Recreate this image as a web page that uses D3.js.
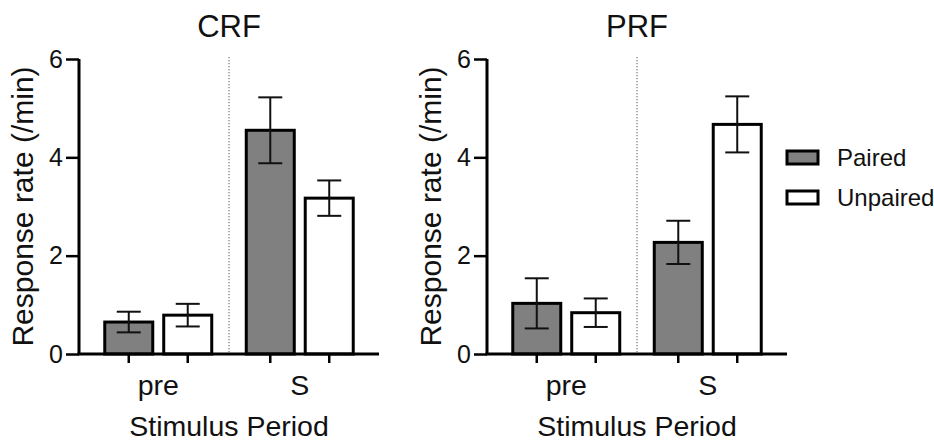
<!DOCTYPE html>
<html>
<head>
<meta charset="utf-8">
<script src="https://cdn.jsdelivr.net/npm/d3@7"></script>
<style>
  html, body { margin: 0; padding: 0; background: #fff; }
  svg text { font-family: "Liberation Sans", Arial, sans-serif; fill: #111; }
</style>
</head>
<body>
<svg id="chart" width="934" height="444"></svg>
<script>
// ---- data ----
const periods = ["pre", "S"];
const seriesNames = ["Paired", "Unpaired"];
const panelTitles = ["CRF", "PRF"];
const yTicks = [0, 2, 4, 6];

const crfPaired = [0.65, 4.55];
const crfPairedErr = [0.21, 0.67];
const crfUnpaired = [0.79, 3.17];
const crfUnpairedErr = [0.23, 0.36];

const prfPaired = [1.03, 2.27];
const prfPairedErr = [0.51, 0.44];
const prfUnpaired = [0.84, 4.67];
const prfUnpairedErr = [0.29, 0.57];

const seriesFill = ["#808080", "#ffffff"];

const panels = [
  { title: panelTitles[0], means: [crfPaired, crfUnpaired], errs: [crfPairedErr, crfUnpairedErr] },
  { title: panelTitles[1], means: [prfPaired, prfUnpaired], errs: [prfPairedErr, prfUnpairedErr] }
];

// ---- layout ----
const svg = d3.select("#chart");
const plotW = 300, plotTop = 59, plotBottom = 354;
const panelX = [79, 487];

const y = d3.scaleLinear().domain([0, 6]).range([plotBottom, plotTop]);
const xGroup = d3.scaleBand().domain(periods).range([0, plotW]).paddingInner(0.244).paddingOuter(0.182);
const xSub = d3.scaleBand().domain(seriesNames).range([0, xGroup.bandwidth()]).paddingInner(0.186).paddingOuter(0);

panels.forEach((p, pi) => {
  const g = svg.append("g").attr("transform", `translate(${panelX[pi]},0)`);

  // dotted separator
  const sepX = (xGroup("pre") + xGroup.bandwidth() + xGroup("S")) / 2;
  g.append("line")
    .attr("x1", sepX).attr("x2", sepX)
    .attr("y1", plotTop - 2).attr("y2", plotBottom)
    .attr("stroke", "#777").attr("stroke-width", 1.2)
    .attr("stroke-dasharray", "1.2,1.8");

  // bars
  seriesNames.forEach((s, si) => {
    periods.forEach((per, gi) => {
      const v = p.means[si][gi];
      const e = p.errs[si][gi];
      const bx = xGroup(per) + xSub(s);
      const bw = xSub.bandwidth();
      g.append("rect")
        .attr("x", bx).attr("y", y(v))
        .attr("width", bw).attr("height", y(0) - y(v))
        .attr("fill", seriesFill[si]).attr("stroke", "#000").attr("stroke-width", 3);
      const cx = bx + bw / 2;
      const eg = g.append("g").attr("stroke", "#111").attr("stroke-width", 2);
      eg.append("line").attr("x1", cx).attr("x2", cx).attr("y1", y(v + e)).attr("y2", y(v - e));
      eg.append("line").attr("x1", cx - 12).attr("x2", cx + 12).attr("y1", y(v + e)).attr("y2", y(v + e));
      eg.append("line").attr("x1", cx - 12).attr("x2", cx + 12).attr("y1", y(v - e)).attr("y2", y(v - e));
      // x tick under bar
      g.append("line").attr("x1", cx).attr("x2", cx)
        .attr("y1", plotBottom).attr("y2", plotBottom + 9)
        .attr("stroke", "#000").attr("stroke-width", 2.5);
    });
  });

  // y axis
  const yAxis = d3.axisLeft(y).tickValues(yTicks).tickSize(13).tickPadding(3).tickFormat(d3.format("d"));
  const ya = g.append("g").call(yAxis);
  ya.attr("font-size", null).attr("font-family", null);
  ya.select(".domain").attr("stroke", "#000").attr("stroke-width", 3)
    .attr("d", `M0,${plotTop}V${plotBottom}`);
  ya.selectAll(".tick line").attr("stroke", "#000").attr("stroke-width", 2.5);
  ya.selectAll(".tick text").style("font-size", "25px").attr("fill", "#111");

  // x axis line
  g.append("line").attr("x1", -1.5).attr("x2", plotW)
    .attr("y1", plotBottom).attr("y2", plotBottom)
    .attr("stroke", "#000").attr("stroke-width", 3);

  // x group labels
  periods.forEach(per => {
    g.append("text")
      .attr("x", xGroup(per) + xGroup.bandwidth() / 2)
      .attr("y", 395)
      .attr("text-anchor", "middle")
      .style("font-size", "28.5px")
      .text(per);
  });

  // x axis title
  g.append("text")
    .attr("x", plotW / 2).attr("y", 436)
    .attr("text-anchor", "middle")
    .style("font-size", "28.5px")
    .text("Stimulus Period");

  // y axis title
  g.append("text")
    .attr("transform", `translate(-46,${(plotTop + plotBottom) / 2}) rotate(-90)`)
    .attr("text-anchor", "middle")
    .style("font-size", "30px")
    .text("Response rate (/min)");

  // panel title
  g.append("text")
    .attr("x", sepX).attr("y", 37)
    .attr("text-anchor", "middle")
    .style("font-size", "31px")
    .text(p.title);
});

// legend
const legend = svg.append("g").attr("transform", "translate(787,151)");
seriesNames.forEach((s, si) => {
  const lg = legend.append("g").attr("transform", `translate(0,${si * 40})`);
  lg.append("rect").attr("x", 0).attr("y", 0).attr("width", 31).attr("height", 13)
    .attr("fill", seriesFill[si]).attr("stroke", "#000").attr("stroke-width", 3);
  lg.append("text").attr("x", 50).attr("y", 15)
    .style("font-size", "24px")
    .text(s);
});
</script>
</body>
</html>
